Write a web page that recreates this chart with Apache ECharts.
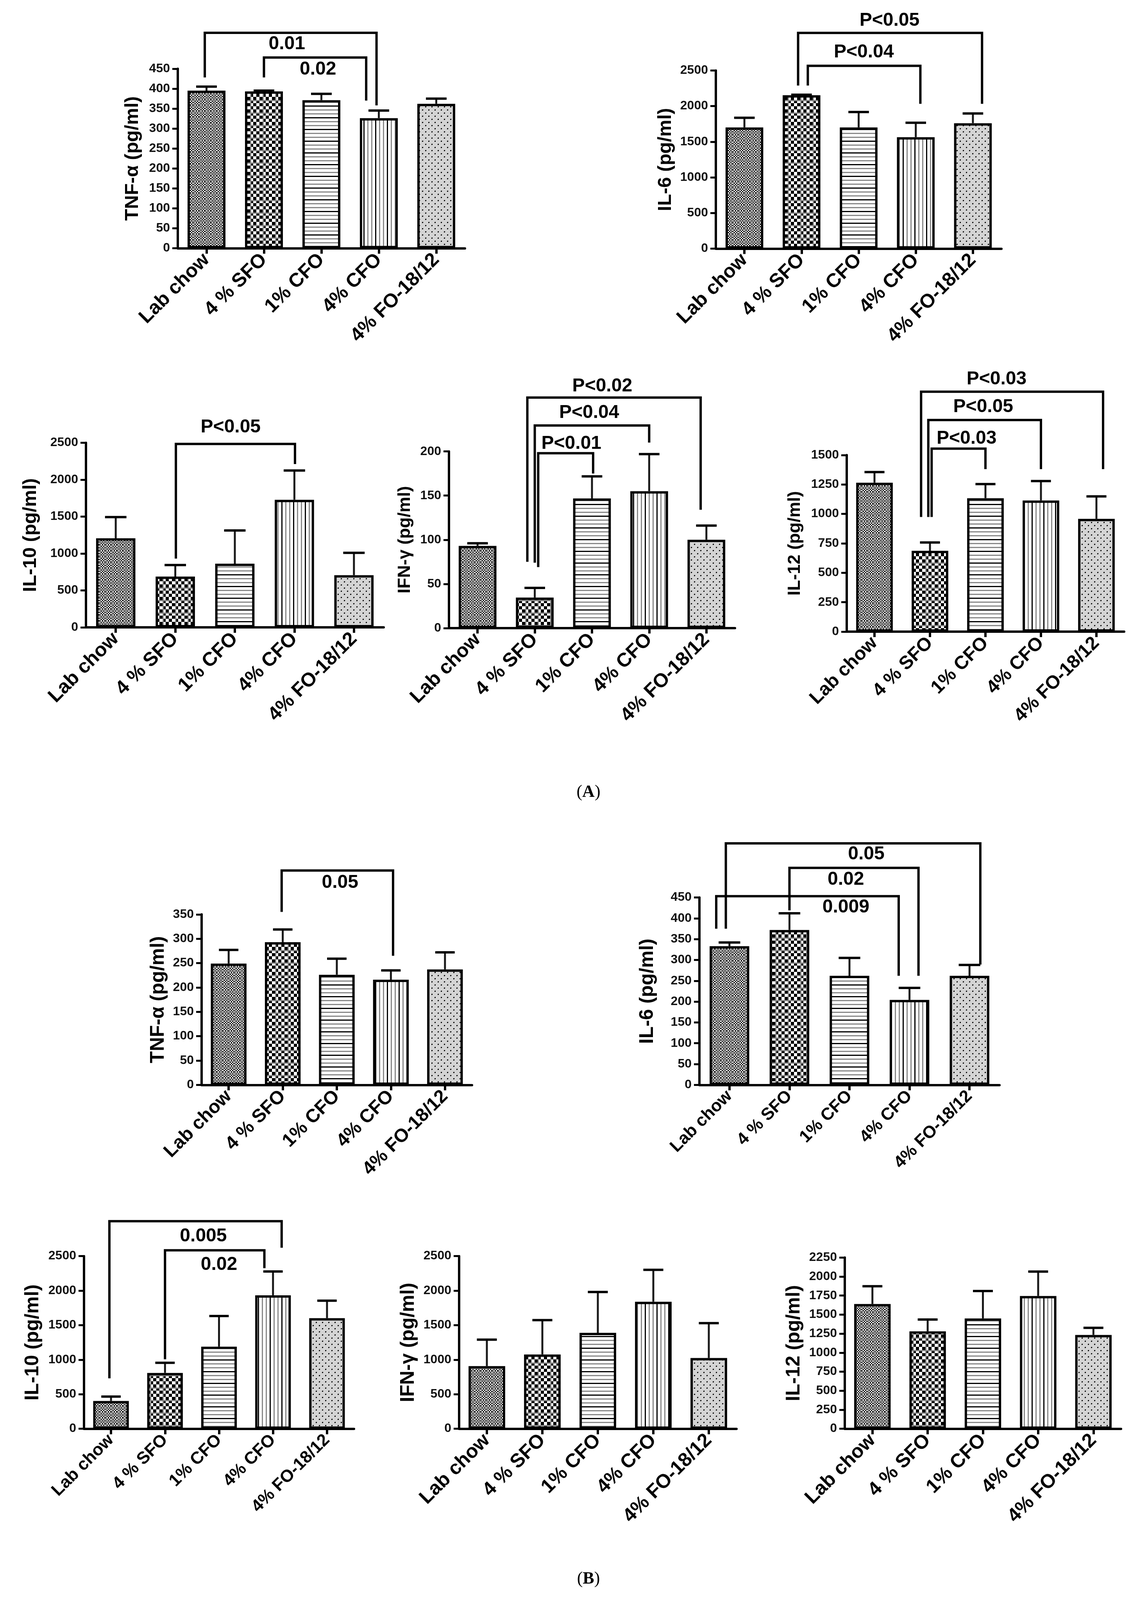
<!DOCTYPE html>
<html><head><meta charset="utf-8">
<script src="https://cdn.jsdelivr.net/npm/echarts@6.0.0/dist/echarts.min.js"></script>
<style>html,body{margin:0;padding:0;background:#fff;overflow:hidden;}#c{width:100vw;height:100vh;}</style>
</head><body><div id="c"></div>
<script>
// ---------- DATA ----------
const categories = ['Lab chow', '4 % SFO', '1% CFO', '4% CFO', '4% FO-18/12'];

const A_TNF_mean = [395, 393, 371, 326, 362];
const A_TNF_sem  = [10, 2, 16, 19, 13];
const A_IL6_mean = [1700, 2153, 1700, 1564, 1760];
const A_IL6_sem  = [136, 7, 217, 202, 136];
const A_IL10_mean = [1206, 688, 862, 1728, 706];
const A_IL10_sem  = [288, 156, 450, 397, 303];
const A_IFN_mean = [93, 34.5, 146.8, 155, 100];
const A_IFN_sem  = [3, 11, 25, 42, 16];
const A_IL12_mean = [1265, 687, 1133, 1114, 958];
const A_IL12_sem  = [90, 70, 120, 165, 191];

const B_TNF_mean = [249, 293, 226, 216, 237];
const B_TNF_sem  = [28, 26, 33, 19, 35];
const B_IL6_mean = [333, 372, 262, 204, 262];
const B_IL6_sem  = [9, 40, 43, 29, 26];
const B_IL10_mean = [402, 809, 1188, 1933, 1601];
const B_IL10_sem  = [64, 146, 444, 345, 253];
const B_IFN_mean = [908, 1075, 1389, 1839, 1024];
const B_IFN_sem  = [383, 499, 591, 463, 506];
const B_IL12_mean = [1640, 1280, 1450, 1745, 1233];
const B_IL12_sem  = [233, 156, 360, 321, 93];

// significance brackets: x in category units, y in data units
const A_TNF_br = [
  {x1: -0.03, x2: 2.96, level: 540, d1: 428, d2: 358, lx: 1.40, ly: 512, t: '0.01'},
  {x1: 1.0, x2: 2.78, level: 478, d1: 428, d2: 370, lx: 1.94, ly: 448, t: '0.02'}
];
const A_IL6_br = [
  {x1: 0.94, x2: 4.16, level: 3028, d1: 2289, d2: 2032, lx: 2.54, ly: 3200, t: 'P<0.05'},
  {x1: 1.11, x2: 3.08, level: 2566, d1: 2289, d2: 2032, lx: 2.09, ly: 2757, t: 'P<0.04'}
];
const A_IL10_br = [
  {x1: 1.01, x2: 3.01, level: 2484, d1: 931, d2: 2212, lx: 1.93, ly: 2712, t: 'P<0.05'}
];
const A_IFN_br = [
  {x1: 0.87, x2: 3.9, level: 261, d1: 75, d2: 134, lx: 2.18, ly: 274, t: 'P<0.02'},
  {x1: 1.0, x2: 3.0, level: 229.4, d1: 74, d2: 210, lx: 1.95, ly: 243.6, t: 'P<0.04'},
  {x1: 1.06, x2: 2.02, level: 198, d1: 69, d2: 175, lx: 1.64, ly: 209, t: 'P<0.01'}
];
const A_IL12_br = [
  {x1: 0.84, x2: 4.12, level: 2038, d1: 974, d2: 1380, lx: 2.2, ly: 2143, t: 'P<0.03'},
  {x1: 0.97, x2: 3.0, level: 1797, d1: 974, d2: 1380, lx: 1.96, ly: 1908, t: 'P<0.05'},
  {x1: 1.03, x2: 2.0, level: 1554, d1: 974, d2: 1380, lx: 1.66, ly: 1641, t: 'P<0.03'}
];
const B_TNF_br = [
  {x1: 0.98, x2: 3.04, level: 440, d1: 355, d2: 265, lx: 2.06, ly: 415, t: '0.05'}
];
const B_IL6_br = [
  {x1: -0.06, x2: 4.18, level: 580, d1: 375, d2: 289, lx: 2.28, ly: 554, t: '0.05'},
  {x1: 1.0, x2: 3.15, level: 521, d1: 419, d2: 262, lx: 1.94, ly: 493, t: '0.02'},
  {x1: -0.22, x2: 2.82, level: 453, d1: 375, d2: 262, lx: 1.94, ly: 426, t: '0.009'}
];
const B_IL10_br = [
  {x1: -0.03, x2: 3.16, level: 3006, d1: 730, d2: 2621, lx: 1.71, ly: 2789, t: '0.005'},
  {x1: 1.0, x2: 2.84, level: 2584, d1: 1006, d2: 2326, lx: 2.0, ly: 2376, t: '0.02'}
];

// ---------- LAYOUT (reference frame 2938 x 4448, scaled to the viewport) ----------
const REF_W = 2938, REF_H = 4448;
const VW = window.innerWidth || REF_W, VH = window.innerHeight || REF_H;
const sx = VW / REF_W, sy = VH / REF_H;
const FONT = '"Liberation Sans", Arial, sans-serif';
const panels = [
  {name:'TNF-α (pg/ml)', mean:A_TNF_mean, sem:A_TNF_sem, max:450, step:50, br:A_TNF_br, box:[455,191,735,499], tx:339, tf:49, cf:50},
  {name:'IL-6 (pg/ml)', mean:A_IL6_mean, sem:A_IL6_sem, max:2500, step:500, br:A_IL6_br, box:[1832,196,731,495], tx:1703, tf:49, cf:50},
  {name:'IL-10 (pg/ml)', mean:A_IL10_mean, sem:A_IL10_sem, max:2500, step:500, br:A_IL10_br, box:[220,1231,762,513], tx:78, tf:49, cf:50},
  {name:'IFN-γ (pg/ml)', mean:A_IFN_mean, sem:A_IFN_sem, max:200, step:50, br:A_IFN_br, box:[1149,1255,732,491], tx:1037, tf:45, cf:50},
  {name:'IL-12 (pg/ml)', mean:A_IL12_mean, sem:A_IL12_sem, max:1500, step:250, br:A_IL12_br, box:[2167,1265,710,491], tx:2035, tf:45, cf:48},
  {name:'TNF-α (pg/ml)', mean:B_TNF_mean, sem:B_TNF_sem, max:350, step:50, br:B_TNF_br, box:[516,2542,692,474], tx:405, tf:50, cf:48},
  {name:'IL-6 (pg/ml)', mean:B_IL6_mean, sem:B_IL6_sem, max:450, step:50, br:B_IL6_br, box:[1790,2495,768,521], tx:1657, tf:50, cf:44},
  {name:'IL-10 (pg/ml)', mean:B_IL10_mean, sem:B_IL10_sem, max:2500, step:500, br:B_IL10_br, box:[215,3492,691,480], tx:84, tf:50, cf:44},
  {name:'IFN-γ (pg/ml)', mean:B_IFN_mean, sem:B_IFN_sem, max:2500, step:500, br:[], box:[1175,3492,710,480], tx:1045, tf:50, cf:50},
  {name:'IL-12 (pg/ml)', mean:B_IL12_mean, sem:B_IL12_sem, max:2250, step:250, br:[], box:[2162,3496,707,476], tx:2032, tf:50, cf:50}
];
const panelLabels = [
  {text: '({b|A})', x: 1506, y: 2203},
  {text: '({b|B})', x: 1506, y: 4390}
];

// ---------- PATTERNS ----------
function tile(w, h, draw) {
  const c = document.createElement('canvas'); c.width = w; c.height = h;
  const g = c.getContext('2d'); g.fillStyle = '#fff'; g.fillRect(0, 0, w, h); draw(g); return c;
}
const patLab = tile(15, 15, g => {
  g.fillStyle = '#000';
  for (let i = 0; i < 5; i++) for (let j = 0; j < 5; j++) if ((i + j) % 2 === 0) g.fillRect(i * 3, j * 3, 3, 3);
  g.fillStyle = '#888'; g.fillRect(0, 0, 15, 2); g.fillRect(0, 0, 2, 15);
});
const patSFO = tile(32, 32, g => {
  g.fillStyle = '#000';
  for (let i = 0; i < 4; i++) for (let j = 0; j < 4; j++) if ((i + j) % 2 === 0) g.fillRect(i * 8, j * 8, 8, 8);
  g.fillStyle = '#888'; g.fillRect(0, 0, 32, 3); g.fillRect(0, 0, 3, 32);
});
const patH = tile(8, 30, g => {
  g.fillStyle = '#000'; g.fillRect(0, 0, 8, 3);
  g.fillStyle = '#888'; g.fillRect(0, 10, 8, 3); g.fillRect(0, 20, 8, 3);
});
const patV = tile(30, 8, g => {
  g.fillStyle = '#000'; g.fillRect(0, 0, 3, 8);
  g.fillStyle = '#888'; g.fillRect(10, 0, 3, 8); g.fillRect(20, 0, 3, 8);
});
const patFO = tile(16, 16, g => {
  g.fillStyle = '#a8a8a8';
  for (let i = 0; i < 8; i++) for (let j = 0; j < 8; j++) if ((i + j) % 2 === 0) g.fillRect(i * 2, j * 2, 2, 2);
  g.fillStyle = '#000'; g.fillRect(0, 0, 3, 3); g.fillRect(8, 8, 3, 3);
});
const fills = [patLab, patSFO, patH, patV, patFO].map(c => ({image: c, repeat: 'repeat'}));

// ---------- OPTION ----------
const grid = [], xAxis = [], yAxis = [], series = [];
panels.forEach((p, i) => {
  const l = p.box[0] * sx, t = p.box[1] * sy, w = p.box[2] * sx, h = p.box[3] * sy;
  grid.push({left: l, top: t, width: w, height: h, containLabel: false});
  xAxis.push({
    type: 'category', gridIndex: i, data: categories,
    axisLine: {show: true, lineStyle: {color: '#000', width: 6}},
    axisTick: {show: true, alignWithLabel: true, length: 14, lineStyle: {color: '#000', width: 6}},
    axisLabel: {rotate: 45, interval: 0, margin: 22, fontSize: p.cf, fontWeight: 'bold', color: '#000', fontFamily: FONT},
    splitLine: {show: false}
  });
  yAxis.push({
    type: 'value', gridIndex: i, min: 0, max: p.max, interval: p.step,
    axisLine: {show: true, lineStyle: {color: '#000', width: 6}},
    axisTick: {show: true, length: 14, lineStyle: {color: '#000', width: 5}},
    axisLabel: {fontSize: 32, fontWeight: 'bold', color: '#111', margin: 20, fontFamily: FONT, formatter: v => String(v)},
    splitLine: {show: false},
    name: p.name, nameLocation: 'middle', nameGap: l - p.tx * sx - p.tf / 2,
    nameTextStyle: {fontSize: p.tf, fontWeight: 'bold', color: '#000', fontFamily: FONT}
  });
  series.push({
    type: 'bar', xAxisIndex: i, yAxisIndex: i, barWidth: '66%', z: 2, silent: true,
    data: p.mean.map((v, k) => ({value: v, itemStyle: {color: fills[k]}})),
    itemStyle: {borderColor: '#000', borderWidth: 6}
  });
  series.push({
    type: 'custom', xAxisIndex: i, yAxisIndex: i, z: 4, silent: true, clip: false,
    data: p.mean.map((v, k) => [k, v, v + p.sem[k]]),
    renderItem: function (params, api) {
      const x = api.value(0);
      const p0 = api.coord([x, api.value(1)]);
      const p1 = api.coord([x, api.value(2)]);
      const hw = api.size([1, 0])[0] * 0.18;
      return {type: 'group', children: [
        {type: 'line', shape: {x1: p0[0], y1: p0[1], x2: p1[0], y2: p1[1]}, style: {stroke: '#1a1a1a', lineWidth: 5}},
        {type: 'line', shape: {x1: p1[0] - hw, y1: p1[1], x2: p1[0] + hw, y2: p1[1]}, style: {stroke: '#000', lineWidth: 6}}
      ]};
    }
  });
  if (p.br.length) {
    const br = p.br;
    series.push({
      type: 'custom', xAxisIndex: i, yAxisIndex: i, z: 5, silent: true, clip: false,
      data: br.map(() => [0, 0]),
      renderItem: function (params, api) {
        const b = br[params.dataIndex];
        const bw = api.size([1, 0])[0];
        const X = (x, y) => { const r = Math.round(x); const q = api.coord([r, y]); return [q[0] + (x - r) * bw, q[1]]; };
        const a = X(b.x1, b.d1), c = X(b.x1, b.level), d = X(b.x2, b.level), e = X(b.x2, b.d2);
        const tp = X(b.lx, b.ly);
        return {type: 'group', children: [
          {type: 'polyline', shape: {points: [a, c, d, e]}, style: {stroke: '#000', lineWidth: 6, fill: null, lineJoin: 'miter'}},
          {type: 'text', x: tp[0], y: tp[1], style: {text: b.t, fill: '#000', font: 'bold 48px ' + FONT, align: 'center', verticalAlign: 'middle'}}
        ]};
      }
    });
  }
});

const option = {
  animation: false,
  backgroundColor: '#fff',
  grid, xAxis, yAxis, series,
  graphic: panelLabels.map(pl => ({
    type: 'text', x: pl.x * sx, y: pl.y * sy,
    style: {text: pl.text, font: '44px "Liberation Serif", serif', fill: '#000', align: 'center', verticalAlign: 'middle',
      rich: {b: {fontWeight: 'bold', fontSize: 44, fontFamily: '"Liberation Serif", serif'}}}
  }))
};
const chart = echarts.init(document.getElementById('c'), null, {renderer: 'canvas'});
chart.setOption(option);
</script>
</body></html>
